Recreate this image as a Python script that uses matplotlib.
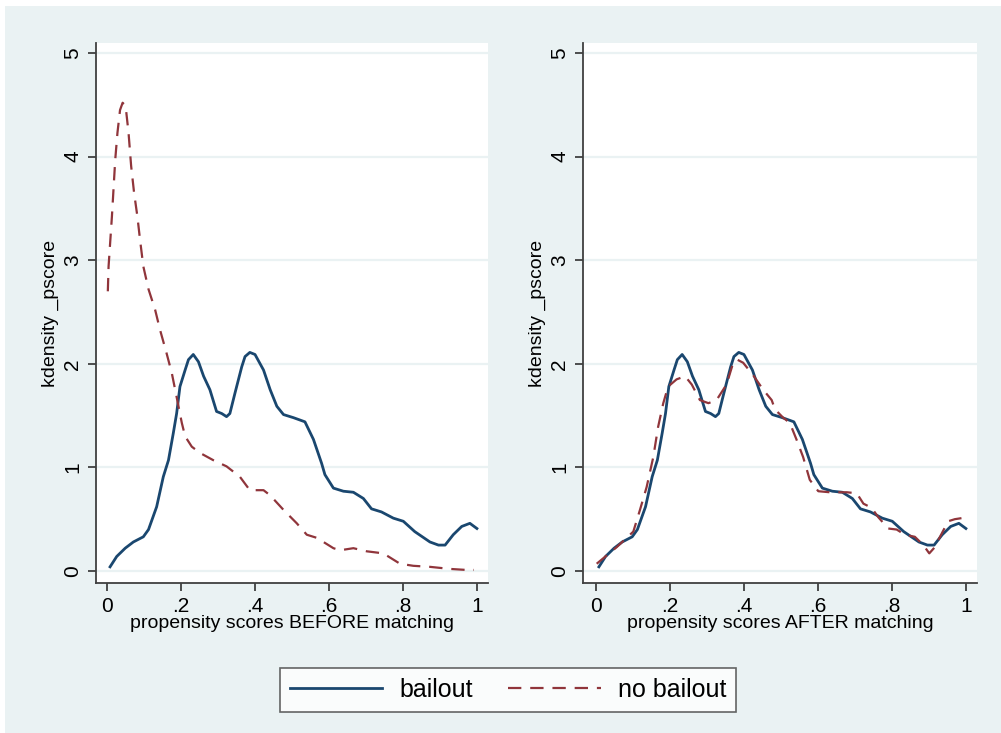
import numpy as np
import matplotlib.pyplot as plt
from matplotlib.patches import Rectangle
from matplotlib.lines import Line2D

# kdensity of propensity score, bailout group (same curve in both panels)
x_bail = [0.008, 0.026, 0.049, 0.071, 0.098, 0.112, 0.134, 0.152, 0.166, 0.179,
          0.188, 0.197, 0.211, 0.220, 0.233, 0.247, 0.261, 0.278, 0.296, 0.310,
          0.323, 0.332, 0.346, 0.364, 0.373, 0.386, 0.400, 0.423, 0.441, 0.459,
          0.477, 0.504, 0.535, 0.558, 0.580, 0.589, 0.612, 0.639, 0.666, 0.693,
          0.715, 0.742, 0.774, 0.801, 0.832, 0.873, 0.896, 0.914, 0.936, 0.959,
          0.981, 1.000]
y_bail = [0.04, 0.14, 0.22, 0.28, 0.33, 0.40, 0.62, 0.91, 1.07, 1.33,
          1.52, 1.78, 1.94, 2.04, 2.09, 2.02, 1.88, 1.75, 1.54, 1.52,
          1.49, 1.52, 1.72, 1.97, 2.07, 2.11, 2.09, 1.94, 1.75, 1.59,
          1.51, 1.48, 1.44, 1.27, 1.04, 0.93, 0.80, 0.77, 0.76, 0.70,
          0.60, 0.57, 0.51, 0.48, 0.38, 0.28, 0.25, 0.25, 0.35, 0.43,
          0.46, 0.41]

# no bailout, before matching
x_nob_pre = [0.002, 0.004, 0.013, 0.022, 0.028, 0.035, 0.042, 0.050, 0.058, 0.065,
             0.073, 0.082, 0.089, 0.098, 0.112, 0.130, 0.143, 0.161, 0.175, 0.188,
             0.202, 0.211, 0.229, 0.251, 0.287, 0.323, 0.359, 0.386, 0.423, 0.441,
             0.477, 0.513, 0.540, 0.567, 0.612, 0.630, 0.666, 0.702, 0.747, 0.792,
             0.828, 0.873, 0.927, 0.972, 0.992]
y_nob_pre = [2.70, 2.94, 3.42, 3.97, 4.23, 4.45, 4.52, 4.49, 4.23, 3.91,
             3.65, 3.42, 3.20, 2.94, 2.72, 2.52, 2.33, 2.10, 1.91, 1.68,
             1.43, 1.30, 1.20, 1.14, 1.07, 1.01, 0.91, 0.78, 0.78, 0.73,
             0.59, 0.46, 0.35, 0.32, 0.22, 0.20, 0.22, 0.19, 0.17, 0.07,
             0.05, 0.04, 0.02, 0.01, 0.01]

# no bailout, after matching
x_nob_post = [0.002, 0.029, 0.056, 0.083, 0.101, 0.119, 0.137, 0.155, 0.168, 0.182,
              0.195, 0.218, 0.241, 0.259, 0.281, 0.304, 0.326, 0.353, 0.371, 0.382,
              0.398, 0.425, 0.452, 0.475, 0.484, 0.506, 0.524, 0.542, 0.560, 0.578,
              0.601, 0.632, 0.678, 0.705, 0.723, 0.745, 0.763, 0.790, 0.813, 0.835,
              0.862, 0.885, 0.901, 0.916, 0.930, 0.952, 0.970, 0.988]
y_nob_post = [0.07, 0.15, 0.23, 0.32, 0.38, 0.59, 0.81, 1.10, 1.39, 1.62,
              1.78, 1.85, 1.88, 1.80, 1.65, 1.62, 1.65, 1.80, 2.01, 2.04,
              2.01, 1.89, 1.75, 1.65, 1.56, 1.48, 1.43, 1.27, 1.10, 0.88,
              0.77, 0.76, 0.76, 0.75, 0.65, 0.61, 0.52, 0.41, 0.40, 0.35,
              0.33, 0.25, 0.17, 0.23, 0.33, 0.48, 0.50, 0.51]

xticks = [0, 0.2, 0.4, 0.6, 0.8, 1]
xticklabels = ['0', '.2', '.4', '.6', '.8', '1']
yticks = [0, 1, 2, 3, 4, 5]
xlabels = ['propensity scores BEFORE matching', 'propensity scores AFTER matching']

navy = '#1a476f'
maroon = '#90353b'
bg = '#eaf2f3'

plt.rcParams['font.family'] = ['Liberation Sans', 'DejaVu Sans']

W, H = 1001, 733
fig = plt.figure(figsize=(W / 100, H / 100), dpi=100)
fig.patch.set_facecolor('white')
fig.add_artist(Rectangle((5 / W, 0), 1 - 5 / W, 1 - 6 / H, transform=fig.transFigure,
                         facecolor=bg, edgecolor='none', zorder=0))

ax1 = fig.add_axes([96 / W, 1 - 583 / H, 392 / W, 540 / H])
ax2 = fig.add_axes([583 / W, 1 - 583 / H, 394 / W, 540 / H])

dash = (0, (6, 4))
ax1.plot(x_bail, y_bail, color=navy, lw=2, zorder=3, solid_joinstyle='round')
ax1.plot(x_nob_pre, y_nob_pre, color=maroon, lw=1.6, ls=dash, zorder=3)
ax2.plot(x_bail, y_bail, color=navy, lw=2, zorder=3, solid_joinstyle='round')
ax2.plot(x_nob_post, y_nob_post, color=maroon, lw=1.6, ls=dash, zorder=3)

for ax, xl, x0 in [(ax1, xlabels[0], -0.03), (ax2, xlabels[1], -0.035)]:
    ax.set_facecolor('white')
    ax.set_xlim(x0, 1.03)
    ax.set_ylim(-0.116, 5.097)
    ax.set_xticks(xticks)
    ax.set_xticklabels(xticklabels)
    ax.set_yticks(yticks)
    ax.set_yticklabels([str(v) for v in yticks], rotation=90, va='center')
    for v in yticks:
        ax.axhline(v, color=bg, lw=1.6, zorder=1)
    ax.spines['top'].set_visible(False)
    ax.spines['right'].set_visible(False)
    for s in ('left', 'bottom'):
        ax.spines[s].set_color('#404040')
        ax.spines[s].set_linewidth(1.3)
    ax.tick_params(direction='out', length=6, width=1.3, color='#404040',
                   labelsize=15, pad=4)
    ax.set_xlabel(xl, fontsize=14, labelpad=-1)
    ax.set_ylabel('kdensity _pscore', fontsize=14, labelpad=3)

# legend box
handles = [Line2D([], [], color=navy, lw=2),
           Line2D([], [], color=maroon, lw=1.6, ls=dash)]
leg = fig.legend(handles, ['bailout', 'no bailout'], loc='center',
                 bbox_to_anchor=(508 / W, 1 - 690 / H), ncol=2, fontsize=18,
                 frameon=True, fancybox=False, handlelength=3.7, columnspacing=1.4,
                 handletextpad=0.7, borderpad=0.4, borderaxespad=0)
leg.get_frame().set_edgecolor('#404040')
leg.get_frame().set_linewidth(1.2)

fig.savefig('out.png', dpi=100)
